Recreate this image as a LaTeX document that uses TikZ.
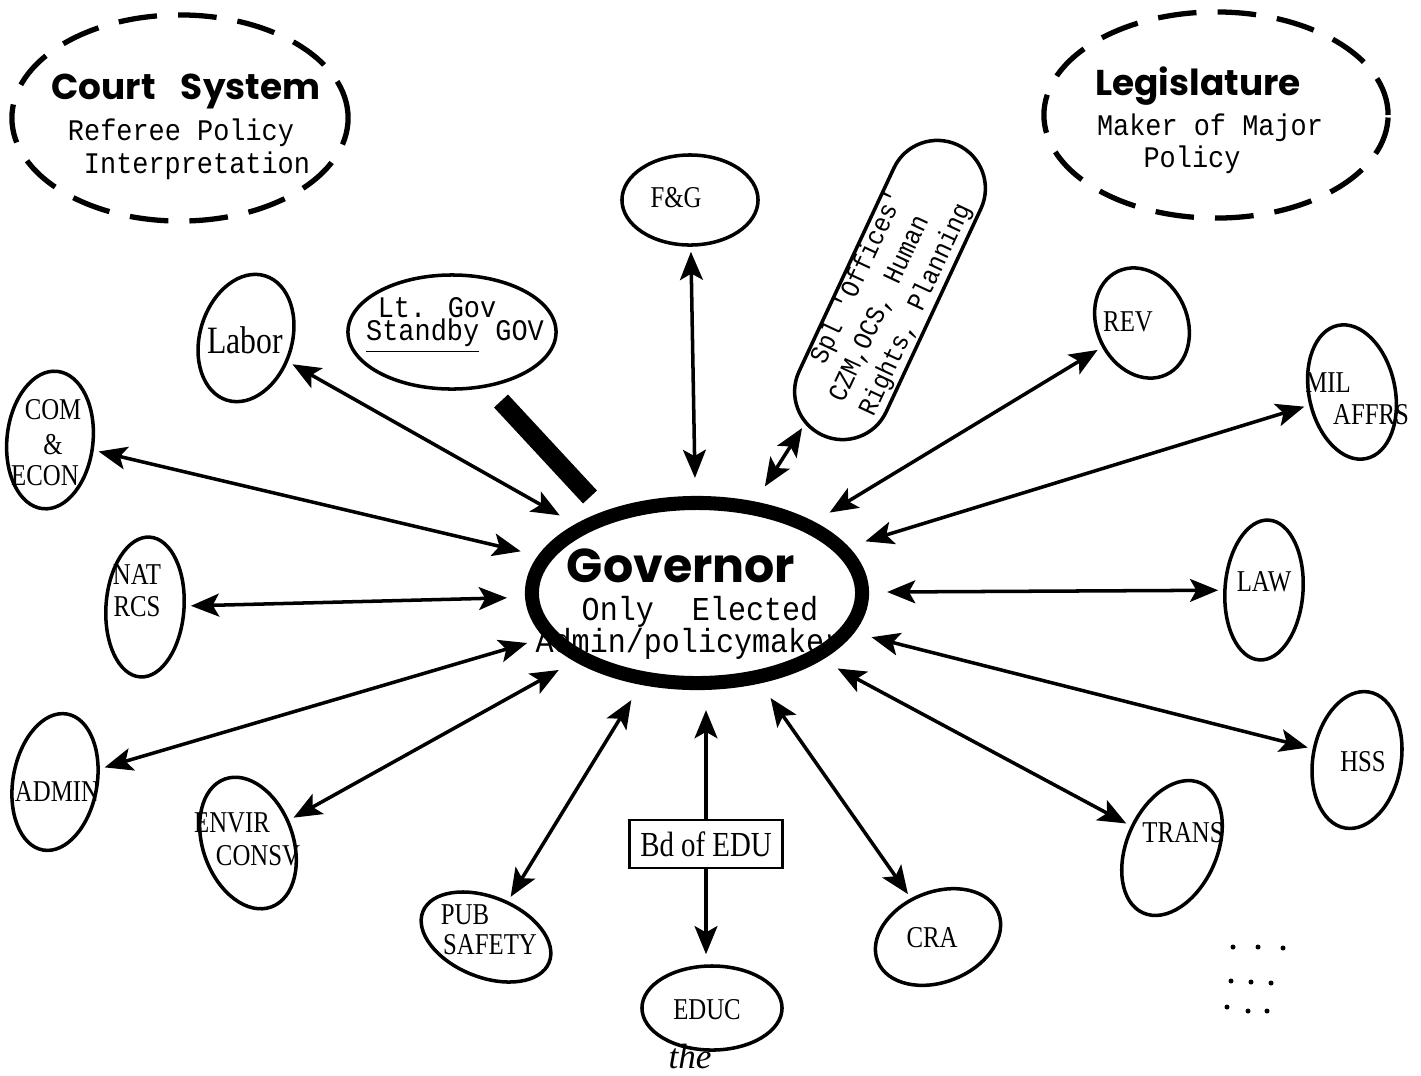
\documentclass[tikz,border=0pt]{standalone}
\usepackage{fontspec}
\usetikzlibrary{arrows.meta,shapes.geometric,shapes.misc}
\newfontfamily\typefont{Liberation Mono}[FakeStretch=0.9]
\newfontfamily\labfont{Liberation Serif}[FakeStretch=0.82]
\newfontfamily\headfont{Poppins}
\newfontfamily\handfont{Liberation Serif}
\tikzset{
  leaf/.style={draw, ellipse, line width=1pt, inner sep=0pt},
  outerbody/.style={draw, ellipse, line width=1.5pt, dash pattern=on 11pt off 6pt, inner sep=0pt},
  tw/.style={font=\typefont\fontsize{8.5}{7.5}\selectfont, inner sep=0pt},
  pilltw/.style={font=\typefont\fontsize{7.6}{9.4}\selectfont, inner sep=0pt},
  govtw/.style={font=\typefont\fontsize{9.5}{10}\selectfont, inner sep=0pt},
  lab/.style={font=\labfont\fontsize{8.6}{9}\selectfont, inner sep=0pt},
  headtxt/.style={font=\headfont\bfseries\fontsize{10.2}{12}\selectfont, inner sep=0pt},
  link/.style={line width=1pt, {Stealth[length=8pt,width=6.5pt,inset=1.8pt]}-{Stealth[length=8pt,width=6.5pt,inset=1.8pt]},
               shorten <=0.05cm, shorten >=0.18cm},
  oneway/.style={line width=1pt, -{Stealth[length=8pt,width=6.5pt,inset=1.8pt]}},
  govbar/.style={line width=0.19cm},
  speck/.style={circle, fill, inner sep=0pt, minimum size=0.05cm}
}
\begin{document}
\begin{tikzpicture}[x=0.01cm,y=-0.01cm]
\useasboundingbox (0,0) rectangle (1421,1075);

% outer branches
\node[outerbody, minimum width=3.36cm, minimum height=2.06cm] (court) at (180,118) {};
\node[headtxt] (court1) at (186,91) {Court\hspace{0.7em}System};
\node[tw] (court2) at (181,133) {Referee Policy};
\node[tw] (court3) at (197,166) {Interpretation};

\node[outerbody, minimum width=3.44cm, minimum height=2.06cm] (legis) at (1216,115) {};
\node[headtxt] (legis1) at (1198,86) {Legislature};
\node[tw] (legis2) at (1210,128) {Maker of Major};
\node[tw] (legis3) at (1192,160) {Policy};

% governor text, then its heavy outline
\node[headtxt, font=\headfont\bfseries\fontsize{13.5}{15}\selectfont] (gov1) at (681,566) {Governor};
\node[govtw] (gov2) at (700,612) {Only\hspace{0.6em} Elected};
\node[govtw] (gov3) at (689,644) {Admin/policymaker};
\node[draw, ellipse, line width=4pt, minimum width=3.3cm, minimum height=1.8cm, inner sep=0pt] (gov) at (697,593) {};

% departments and offices
\node[leaf, minimum width=1.36cm, minimum height=0.90cm] (fg) at (690,200) {};
\node[lab] (fgt) at (676,198) {F\&G};

\node[leaf, minimum width=2.08cm, minimum height=1.14cm] (ltgov) at (452,332) {};
\node[tw] (ltgov1) at (437,308) {Lt. Gov};
\node[tw] (ltgov2) at (455,336) {\underline{Standby} GOV};

\node[draw, rounded rectangle, line width=1pt, rotate=65, minimum width=3.2cm, minimum height=0.96cm, inner sep=0pt] (spl) at (890,290) {};
\node[pilltw, rotate=65, align=left] (splt) at (886,296) {\hspace{1em}Spl 'Offices'\\CZM,OCS, Human\\Rights, Planning};

\node[leaf, minimum width=0.92cm, minimum height=1.30cm, rotate=-17] (labor) at (246,338) {};
\node[lab, font=\labfont\fontsize{11}{11}\selectfont] (labort) at (245,340) {Labor};

\node[leaf, minimum width=0.86cm, minimum height=1.38cm, rotate=-6] (com) at (50,440) {};
\node[lab] (com1) at (53,410) {COM};
\node[lab] (com2) at (53,445) {\&};
\node[lab] (com3) at (45,476) {ECON};

\node[leaf, minimum width=0.78cm, minimum height=1.40cm, rotate=-4] (nat) at (145,607) {};
\node[lab] (nat1) at (137,575) {NAT};
\node[lab] (nat2) at (137,607) {RCS};

\node[leaf, minimum width=0.84cm, minimum height=1.38cm, rotate=-10] (admin) at (55,782) {};
\node[lab] (admint) at (57,792) {ADMIN};

\node[leaf, minimum width=0.90cm, minimum height=1.36cm, rotate=20] (envir) at (248,843) {};
\node[lab] (envir1) at (232,823) {ENVIR};
\node[lab] (envir2) at (258,856) {CONSV};

\node[leaf, minimum width=1.36cm, minimum height=0.80cm, rotate=-22] (pub) at (486,937) {};
\node[lab] (pub1) at (465,915) {PUB};
\node[lab] (pub2) at (490,945) {SAFETY};

\node[draw, line width=0.8pt, minimum width=1.53cm, minimum height=0.48cm, lab, font=\labfont\fontsize{10}{10}\selectfont] (bd) at (706,844) {Bd of EDU};

\node[leaf, minimum width=1.40cm, minimum height=0.84cm] (educ) at (712,1008) {};
\node[lab] (educt) at (707,1010) {EDUC};
\node[font=\handfont\itshape\fontsize{10}{10}\selectfont, inner sep=0pt] (the) at (690,1056) {the};

\node[leaf, minimum width=1.30cm, minimum height=0.90cm, rotate=22] (cra) at (938,937) {};
\node[lab] (crat) at (932,938) {CRA};

\node[leaf, minimum width=0.90cm, minimum height=1.42cm, rotate=-24] (trans) at (1172,848) {};
\node[lab] (transt) at (1183,833) {TRANS};

\node[leaf, minimum width=0.88cm, minimum height=1.38cm, rotate=-10] (hss) at (1357,760) {};
\node[lab] (hsst) at (1363,762) {HSS};

\node[leaf, minimum width=0.78cm, minimum height=1.40cm, rotate=-4] (law) at (1264,590) {};
\node[lab] (lawt) at (1264,582) {LAW};

\node[leaf, minimum width=0.86cm, minimum height=1.36cm, rotate=12] (mil) at (1352,392) {};
\node[lab] (mil1) at (1328,383) {MIL};
\node[lab] (mil2) at (1371,415) {AFFRS};

\node[leaf, minimum width=0.90cm, minimum height=1.14cm, rotate=25] (rev) at (1142,323) {};
\node[lab] (revt) at (1128,322) {REV};

% lines of authority
\foreach \n in {fg,spl,rev,mil,law,hss,trans,cra,pub,envir,admin,nat,com,labor}
  \draw[link] (\n) -- (gov);

\draw[oneway, shorten >=0.2cm] (bd) -- (bd.north |- gov.south);
\draw[oneway, shorten >=0.1cm] (bd) -- (bd.south |- educ.north);

% standby link of the lieutenant governor
\coordinate (barA) at (501,401);
\coordinate (barB) at (590,497);
\draw[govbar] (barA) -- (barB);

% dot grid
\foreach \i/\p in {1/{(1233,947)},2/{(1258,947)},3/{(1283,948)},4/{(1231,981)},5/{(1251,982)},
                   6/{(1271,983)},7/{(1227,1007)},8/{(1248,1011)},9/{(1267,1011)}}
  \node[speck] (dot\i) at \p {};
\end{tikzpicture}
\end{document}
